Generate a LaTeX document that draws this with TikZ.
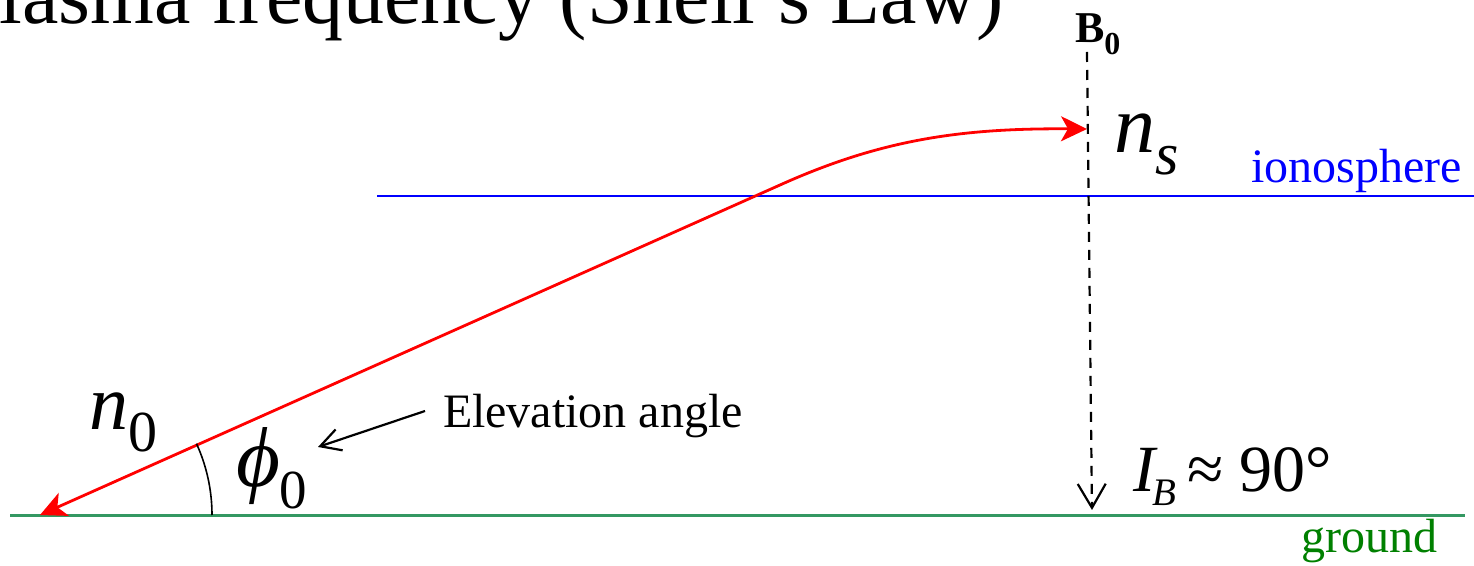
\documentclass[tikz,border=0pt]{standalone}
\usepackage{fontspec}
\setmainfont{Liberation Serif}
\usetikzlibrary{arrows.meta}
\definecolor{raycol}{RGB}{255,0,0}
\definecolor{ionocol}{RGB}{0,0,255}
\definecolor{groundline}{RGB}{52,152,98}
\definecolor{groundtext}{RGB}{0,128,0}
\newlength{\px}\setlength{\px}{0.5pt}
\newcommand{\fsz}[1]{\fontsize{#1}{#1}\selectfont}
\begin{document}
\begin{tikzpicture}[x=0.5pt,y=-0.5pt,
  txt/.style={inner sep=0pt, outer sep=0pt},
  rayline/.style={raycol, line width=1.4pt},
  fieldline/.style={black, line width=1.1pt, dash pattern=on 5pt off 4pt},
  pointer/.style={black, line width=1.1pt, -{Straight Barb[length=10pt,width=11pt]}}]
\useasboundingbox (0,0) rectangle (1474,566);
\begin{scope}
  \clip (0,0) rectangle (1474,566);
  \node[txt, anchor=base west] (title) at (-46,24) {\fsz{41}Plasma frequency (Snell’s Law)};
\end{scope}
% ground and ionosphere
\coordinate (g1) at (10,515.5);
\coordinate (g2) at (1465,515.5);
\draw[groundline, line width=1.75pt] (g1) -- (g2);
\coordinate (i1) at (377,196);
\coordinate (i2) at (1474,196);
\draw[ionocol, line width=1.3pt] (i1) -- (i2);
\node[txt, anchor=base east, text=ionocol] (iono) at (1462,183) {\fsz{24}ionosphere};
\node[txt, anchor=base east, text=groundtext] (ground) at (1437,553) {\fsz{24}ground};
% magnetic field
\node[txt, anchor=base west] (B0) at (1075,43) {\bfseries\fsz{22}B\raisebox{-12\px}{\fsz{16}0}};
\coordinate (b1) at (1087,52);
\coordinate (b2) at (1092,510);
\draw[fieldline, -{Straight Barb[length=12pt,width=14pt,line width=1.1pt]}] (b1) -- (b2);
% ray
\coordinate (r0) at (40,515);
\coordinate (r1) at (780,185);
\coordinate (r2) at (1087,129);
\draw[rayline, {Stealth[length=13pt,width=12.5pt,inset=3.5pt]}-{Stealth[length=13pt,width=12.5pt,inset=3.5pt]}]
  (r0) -- (r1) .. controls (880,140) and (960,128) .. (r2);
% angle arc
\draw[black, line width=0.8pt] (r0) ++(86pt,0pt) arc[start angle=0, end angle=24.5, radius=86pt];
% labels
\node[txt, anchor=base west] (ns) at (1114,153) {\itshape\fsz{41}n\raisebox{-22\px}{\fsz{30}s}};
\node[txt, anchor=base west] (n0) at (90,430) {{\itshape\fsz{39}n}\raisebox{-22\px}{\fsz{29}0}};
\node[txt, anchor=base west] (phi) at (236,487) {{\itshape\fsz{42.5}ϕ}\raisebox{-22\px}{\fsz{27.5}0}};
\node[txt, anchor=base west] (IB) at (1133,492) {{\itshape\fsz{33}I}\kern-2\px\raisebox{-14\px}{\itshape\fsz{19.5}B}\kern11\px{\fsz{33}≈\kern15\px 90°}};
\node[txt, anchor=base west] (elev) at (443,428) {\fsz{24}Elevation angle};
\coordinate (ea) at (425,411);
\coordinate (eb) at (318,447);
\draw[pointer] (ea) -- (eb);
\end{tikzpicture}
\end{document}
